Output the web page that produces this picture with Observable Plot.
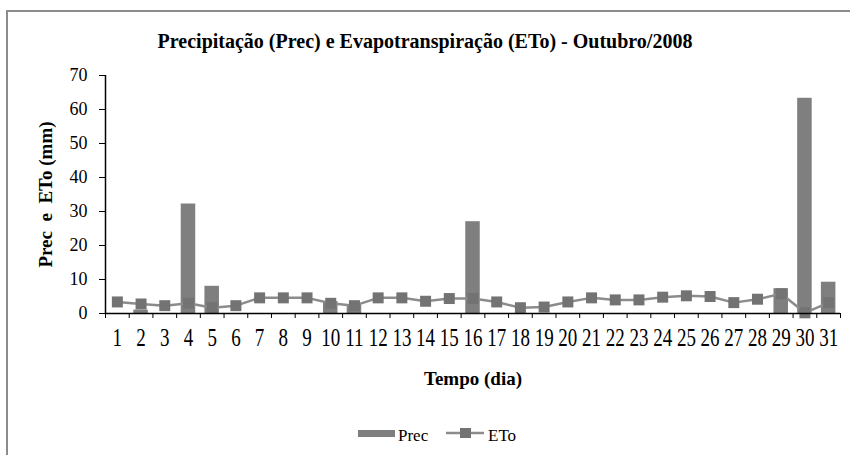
<!DOCTYPE html>
<html>
<head>
<meta charset="utf-8">
<script src="https://cdn.jsdelivr.net/npm/d3@7"></script>
<script src="https://cdn.jsdelivr.net/npm/@observablehq/plot@0.6"></script>
<style>
  html, body { margin: 0; padding: 0; background: white; }
  #wrap { position: relative; width: 850px; height: 455px; overflow: hidden; background: white; font-family: "Liberation Serif", "Times New Roman", serif; color: #000; }
  #frame { position: absolute; left: 6px; top: 10px; width: 900px; height: 500px; border-left: 2px solid #8c8c8c; border-top: 2px solid #8c8c8c; pointer-events: none; }
  #title { height: 60px; box-sizing: border-box; padding-top: 31px; line-height: 20px; font-size: 20px; font-weight: bold; text-align: center; white-space: nowrap; font-family: "Liberation Serif", serif; }
  #legend { position: relative; height: 55px; }
</style>
</head>
<body>
<div id="wrap">
  <div id="title"></div>
  <div id="chart"></div>
  <div id="legend"></div>
  <div id="frame"></div>
</div>
<script>
// Data
const days = [1,2,3,4,5,6,7,8,9,10,11,12,13,14,15,16,17,18,19,20,21,22,23,24,25,26,27,28,29,30,31];
const prec = [0,1,0,32.2,8,0,0,0,0,3.5,2.5,0,0,0,0,27,0,0,0,0,0,0,0,0,0,0,0,0,7.3,63.3,9.2];
const eto  = [3.4,2.8,2.3,3.0,1.7,2.3,4.6,4.6,4.6,3.0,2.3,4.6,4.6,3.6,4.4,4.4,3.4,1.7,1.9,3.4,4.6,4.0,4.0,4.8,5.2,5.0,3.2,4.2,5.8,0.2,3.2];
const yTicks = [0,10,20,30,40,50,60,70];
const seriesNames = ["Prec", "ETo"];
const title = "Precipitação (Prec) e Evapotranspiração (ETo) - Outubro/2008";
const xTitle = "Tempo (dia)";
const yTitle = "Prec\u00a0\u00a0e\u00a0\u00a0ETo (mm)";

document.getElementById("title").textContent = title;

const data = days.map((d, i) => ({day: d, prec: prec[i], eto: eto[i]}));
const xDomain = [days[0] - 0.5, days[days.length - 1] + 0.5];
const bounds = days.map(d => d - 0.5).concat([days[days.length - 1] + 0.5]);

const barColor = "#7f7f7f";
const lineColor = "#8c8c8c";
const markColor = "#737373";
const serif = "'Liberation Serif', 'Times New Roman', serif";

const chart = Plot.plot({
  width: 850,
  height: 340,
  marginLeft: 105,
  marginRight: 10,
  marginTop: 15,
  marginBottom: 87,
  style: {fontFamily: serif, fontSize: "18px", color: "#000", background: "transparent", overflow: "visible"},
  x: {type: "linear", domain: xDomain, axis: null},
  y: {domain: [0, 70], axis: null},
  marks: [
    Plot.rectY(data, {x1: d => d.day - 0.5, x2: d => d.day + 0.5, y: "prec", fill: barColor, insetLeft: 4.6, insetRight: 4.6}),
    Plot.lineY(data, {x: "day", y: "eto", stroke: lineColor, strokeWidth: 2.5}),
    Plot.dot(data, {x: "day", y: "eto", symbol: "square", r: 6.2, fill: markColor}),
    Plot.ruleY([0], {stroke: "#000", strokeWidth: 1.5}),
    Plot.ruleX([xDomain[0]], {stroke: "#000", strokeWidth: 1.5}),
    Plot.axisY({ticks: yTicks, tickSize: 6, tickPadding: 12, fontSize: 18, fontFamily: serif, label: null, stroke: "#000"}),
    Plot.axisX({ticks: days, tickSize: 0, tickPadding: 17, fontSize: 19, fontFamily: serif, label: null, tickFormat: d => String(d), className: "xlab"}),
    Plot.axisX({ticks: bounds, tickSize: 5, tickFormat: () => "", label: null, stroke: "#000"}),
    Plot.text([yTitle], {frameAnchor: "left", rotate: -90, dx: -60, textAnchor: "middle", fontSize: 19, fontFamily: serif, fontWeight: "bold", fill: "#000"}),
    Plot.text([xTitle], {frameAnchor: "bottom", dy: 71, fontSize: 19, fontFamily: serif, fontWeight: "bold", fill: "#000"})
  ]
});
document.getElementById("chart").appendChild(chart);

// Stretch the x tick labels vertically (as in the reference) around their own centre
chart.querySelectorAll(".xlab text").forEach(t => {
  const b = t.getBBox();
  const cy = b.y + b.height / 2;
  const tr = t.getAttribute("transform") || "";
  t.setAttribute("transform", `${tr} translate(0,${cy}) scale(1,1.3) translate(0,${-cy})`);
});

// Legend
const legend = document.getElementById("legend");
legend.innerHTML = `
  <div style="position:absolute;left:358px;top:30px;width:37px;height:7px;background:${barColor}"></div>
  <div style="position:absolute;left:398px;top:26px;font-size:17px;line-height:19px;">${seriesNames[0]}</div>
  <svg style="position:absolute;left:446px;top:27px" width="40" height="12">
    <line x1="0" y1="6" x2="38" y2="6" stroke="${lineColor}" stroke-width="2.5"></line>
    <rect x="14" y="1" width="11" height="10" fill="${markColor}"></rect>
  </svg>
  <div style="position:absolute;left:488px;top:26px;font-size:17px;line-height:19px;">${seriesNames[1]}</div>
`;
</script>
</body>
</html>
